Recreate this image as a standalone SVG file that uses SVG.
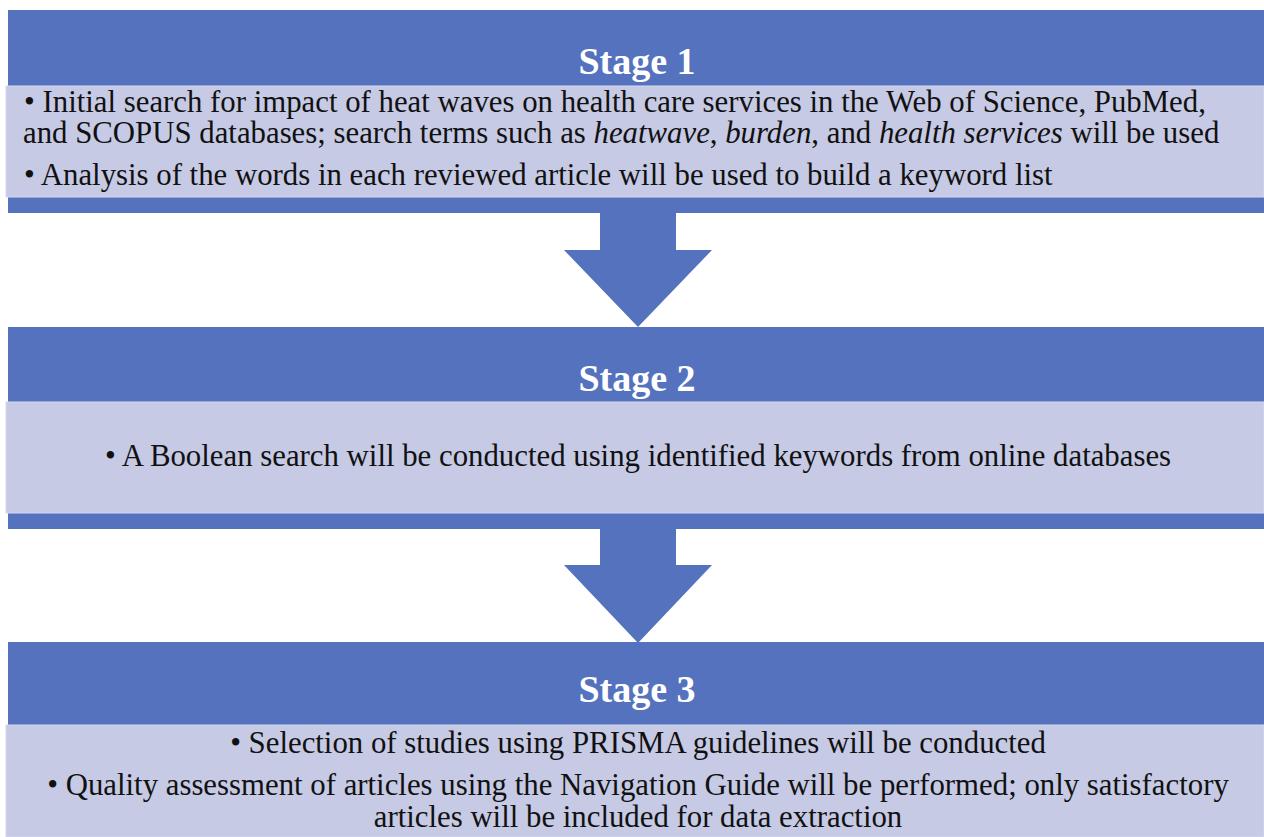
<svg xmlns="http://www.w3.org/2000/svg" width="1264" height="837" viewBox="0 0 1264 837">
<style>
.band{fill:#5472BE}
.box{fill:#C6CAE5;stroke:#D3D7EE;stroke-width:1}
.title{fill:#FFFFFF}
.txt{fill:#111111}
.arrow{fill:#5472BE}
</style>
<rect width="1264" height="837" fill="#FFFFFF"/>
<g id="stage1">
<rect class="band" x="8" y="10" width="1256" height="203"/>
<rect class="box" x="6" y="86" width="1258" height="111"/>
<text class="title" x="637" y="74" font-family="Liberation Serif, Times New Roman, serif" font-size="38" font-weight="bold" text-anchor="middle">Stage 1</text>
<g font-family="Liberation Serif, Times New Roman, serif" font-size="30.8">
<text class="txt" x="24" y="112">• Initial search for impact of heat waves on health care services in the Web of Science, PubMed,</text>
<text class="txt" x="23" y="143">and SCOPUS databases; search terms such as <tspan font-style="italic">heatwave</tspan>, <tspan font-style="italic">burden</tspan>, and <tspan font-style="italic">health services</tspan> will be used</text>
<text class="txt" x="24" y="185">• Analysis of the words in each reviewed article will be used to build a keyword list</text>
</g>
</g>
<g id="stage2">
<rect class="band" x="8" y="327" width="1256" height="202"/>
<rect class="box" x="6" y="402" width="1258" height="111"/>
<text class="title" x="637" y="391" font-family="Liberation Serif, Times New Roman, serif" font-size="38" font-weight="bold" text-anchor="middle">Stage 2</text>
<text class="txt" x="638" y="466" font-family="Liberation Serif, Times New Roman, serif" font-size="30.8" text-anchor="middle">• A Boolean search will be conducted using identified keywords from online databases</text>
</g>
<g id="stage3">
<rect class="band" x="8" y="642" width="1256" height="195"/>
<rect class="box" x="6" y="725" width="1258" height="112"/>
<text class="title" x="637" y="702" font-family="Liberation Serif, Times New Roman, serif" font-size="38" font-weight="bold" text-anchor="middle">Stage 3</text>
<g font-family="Liberation Serif, Times New Roman, serif" font-size="30.8" text-anchor="middle">
<text class="txt" x="638" y="753">• Selection of studies using PRISMA guidelines will be conducted</text>
<text class="txt" x="638" y="795">• Quality assessment of articles using the Navigation Guide will be performed; only satisfactory</text>
<text class="txt" x="638" y="827">articles will be included for data extraction</text>
</g>
</g>
<g id="connectors">
<polygon class="arrow" points="600,213 676,213 676,250 712,250 638,327 564,250 600,250"/>
<polygon class="arrow" points="600,529 676,529 676,565 712,565 638,643 564,565 600,565"/>
</g>
</svg>
